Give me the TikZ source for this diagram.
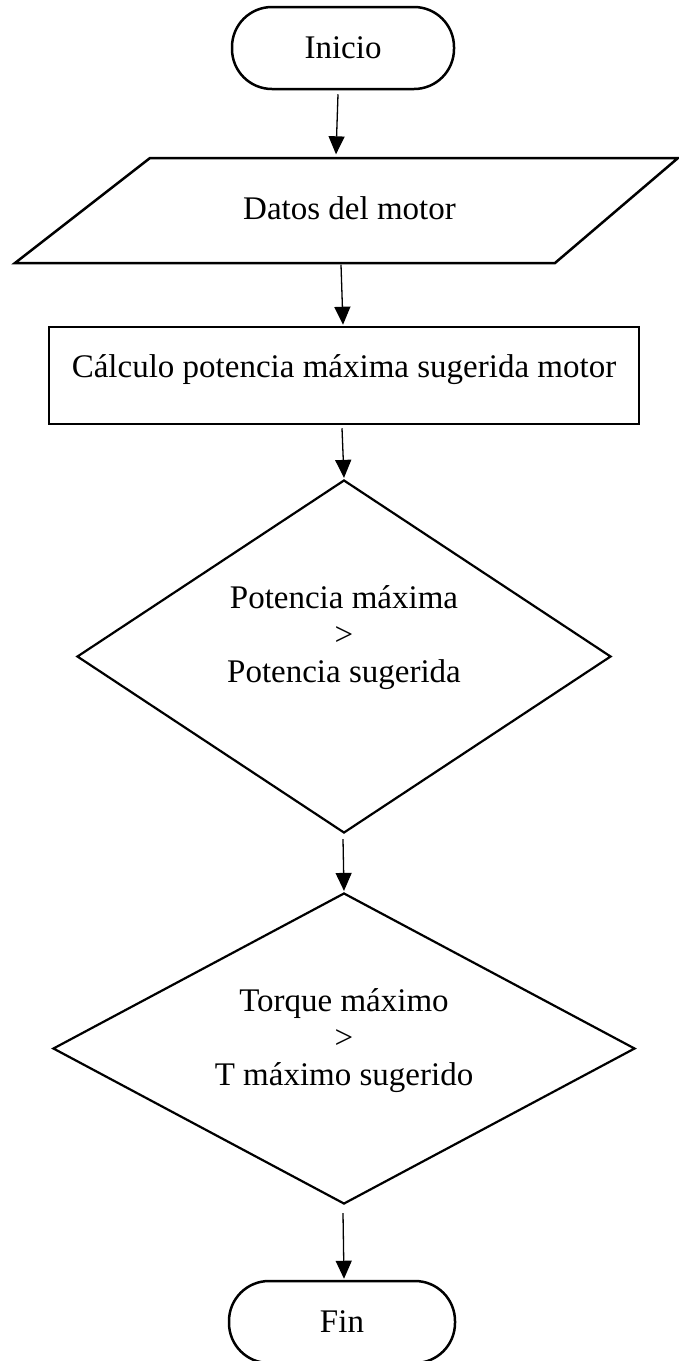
\documentclass[tikz,border=0pt]{standalone}
\usepackage{fontspec}
\setmainfont{Liberation Serif}
\usetikzlibrary{arrows.meta,shapes.geometric}
\tikzset{
  shp/.style={draw=black, line width=2.5pt},
  txt/.style={font=\fontsize{33}{37}\selectfont, align=center, inner sep=0pt},
  term/.style={shp, rectangle, rounded corners=40pt, minimum height=82pt, inner sep=0pt, font=\fontsize{33}{37}\selectfont},
  boxx/.style={shp, rectangle, inner sep=0pt, font=\fontsize{33}{37}\selectfont, text height=24pt, text depth=21pt},
  dia/.style={draw=black, line width=2.2pt, diamond, inner sep=0pt},
  arr/.style={draw=black, line width=1.3pt, -{Triangle[length=18pt,width=16pt]}}
}
\begin{document}
\begin{tikzpicture}[x=1pt,y=-1pt]
\useasboundingbox (0,0) rectangle (678,1361);
% Inicio
\node[term, minimum width=222pt] (ini) at (343,48) {Inicio};
% Datos del motor (parallelogram)
\coordinate (p1) at (150,158);
\coordinate (p2) at (678,158);
\coordinate (p3) at (555,263);
\coordinate (p4) at (15,263);
\draw[shp, line join=miter] (p1) -- (p2) -- (p3) -- (p4) -- cycle;
\node[txt, minimum height=105pt] (dat) at (349.5,208) {Datos del motor};
% Calculo
\node[boxx, minimum width=590pt, minimum height=97pt] (calc) at (344,375.5) {Cálculo potencia máxima sugerida motor};
% Diamond 1
\node[dia, minimum width=534pt, minimum height=353pt] (d1) at (344,656.5) {};
\node[txt] (d1t) at (344,638) {Potencia máxima\\>\\Potencia sugerida};
% Diamond 2
\node[dia, minimum width=582pt, minimum height=311pt] (d2) at (344,1048.5) {};
\node[txt] (d2t) at (344,1041) {Torque máximo\\>\\T máximo sugerido};
% Fin
\node[term, minimum width=226pt] (fin) at (342,1322) {Fin};
% connectors
\draw[arr] ([shift={(-5,4)}]ini.south) -- ([shift={(-13.5,-1)}]dat.north);
\draw[arr] ([shift={(-8.5,4)}]dat.south) -- ([shift={(-1,-1)}]calc.north);
\draw[arr] ([shift={(-2,3)}]calc.south) -- ([shift={(0,-1)}]d1.north);
\draw[arr] ([shift={(-1,5)}]d1.south) -- ([shift={(0,-1)}]d2.north);
\draw[arr] ([shift={(-1,8)}]d2.south) -- ([shift={(2,-1)}]fin.north);
\end{tikzpicture}
\end{document}
